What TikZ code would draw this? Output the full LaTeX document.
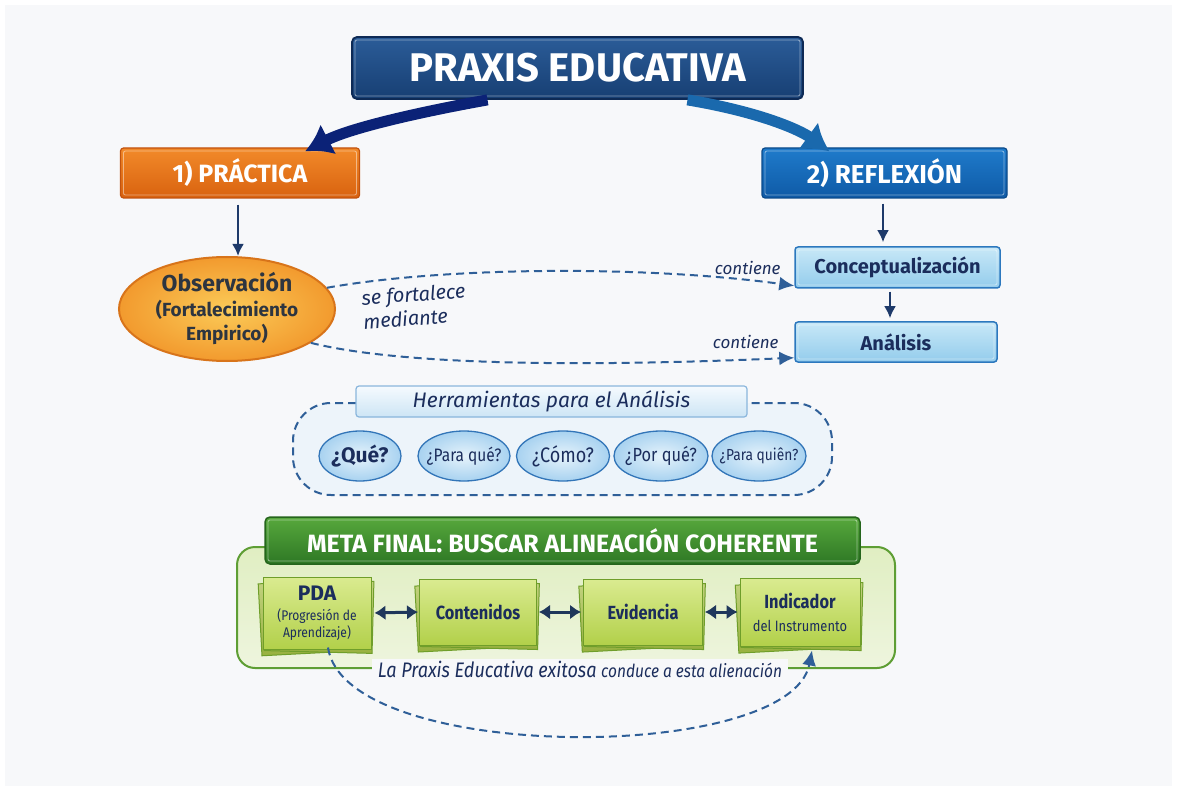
\documentclass[tikz,border=0pt]{standalone}
\usepackage{fontspec}
\setmainfont{Fira Sans}
\usetikzlibrary{arrows.meta,shapes.geometric}
\definecolor{bg}{HTML}{F7F8FA}
\definecolor{navy}{HTML}{1E3A6A}
\definecolor{ink}{HTML}{1B2D5C}
\definecolor{dk}{HTML}{2D3540}
\definecolor{dash}{HTML}{2F5F98}
\newcommand\fsz[2]{\fontsize{#1}{#2}\selectfont}
\newcommand\cond[1]{\scalebox{0.86}[1]{#1}}
\tikzset{
  innerline/.style={path picture={\draw[white,opacity=.45,line width=.9pt,rounded corners=2pt]
      ([shift={(3pt,-3pt)}]path picture bounding box.north west) rectangle
      ([shift={(-3pt,3pt)}]path picture bounding box.south east);}},
  titlebox/.style={rectangle,rounded corners=5pt,draw=HTML0E2A55,line width=1.8pt,
      top color=title1,bottom color=title2,text=white,font=\fsz{40}{44}\bfseries,innerline},
  orangebox/.style={rectangle,rounded corners=3pt,draw=orangeB,line width=1.2pt,
      top color=orange1,bottom color=orange2,text=white,font=\fsz{25}{28}\bfseries,innerline},
  bluebox/.style={rectangle,rounded corners=3pt,draw=blueB,line width=1.2pt,
      top color=blue1,bottom color=blue2,text=white,font=\fsz{26}{28}\bfseries,innerline},
  lightbox/.style={rectangle,rounded corners=3pt,draw=lbB,line width=1.5pt,
      top color=lb1,bottom color=lb2,text=ink,font=\fsz{20}{24}\bfseries,innerline},
  obsnode/.style={ellipse,draw=obsB,line width=2pt,inner color=obs1,outer color=obs2,
      text=dk,align=center,minimum width=216pt,minimum height=104pt,inner sep=-8pt,
      font=\fsz{19}{24}\bfseries},
  qnode/.style={ellipse,draw=qB,line width=1.3pt,inner color=q1,outer color=q2,
      text=ink,minimum height=50pt,inner xsep=-12pt,inner ysep=0pt},
  herrhead/.style={rectangle,rounded corners=3pt,draw=hB,line width=1.2pt,
      top color=h1,bottom color=h2,text=ink,font=\fsz{21}{24}\itshape,
      minimum width=391pt,minimum height=31pt},
  greenhead/.style={rectangle,rounded corners=5pt,draw=gB,line width=1.5pt,
      top color=g1,bottom color=g2,text=white,font=\fsz{25}{28}\bfseries,
      minimum width=595pt,minimum height=47pt,innerline},
  cardback/.style={rectangle,draw=cB,line width=1pt,top color=c1!90!black,bottom color=c2!85!black},
  card/.style={rectangle,draw=cB,line width=1pt,top color=c1,bottom color=c2,
      text=ink,align=center,inner sep=1pt},
  darrow/.style={-{Latex[length=12pt,width=12pt]},line width=2.4pt,draw=navy},
  dashline/.style={dash pattern=on 8pt off 5pt,line width=2pt,draw=dash},
  biarrow/.style={{Latex[length=11pt,width=15pt]}-{Latex[length=11pt,width=15pt]},line width=3pt,draw=HTML0E2A55!85!gray},
  lbl/.style={text=ink,font=\fsz{17}{20}\itshape},
}
\definecolor{HTML0E2A55}{HTML}{0E2A55}
\definecolor{title1}{HTML}{2B5C98}
\definecolor{title2}{HTML}{173F73}
\definecolor{orangeB}{HTML}{C2520E}
\definecolor{orange1}{HTML}{F28A2A}
\definecolor{orange2}{HTML}{D9620F}
\definecolor{blueB}{HTML}{0B4A8A}
\definecolor{blue1}{HTML}{1F7BCB}
\definecolor{blue2}{HTML}{0F5AA6}
\definecolor{lbB}{HTML}{2C78BE}
\definecolor{lb1}{HTML}{C8E8F7}
\definecolor{lb2}{HTML}{93CCEC}
\definecolor{obsB}{HTML}{D8741A}
\definecolor{obs1}{HTML}{FBCB58}
\definecolor{obs2}{HTML}{F29A2E}
\definecolor{qB}{HTML}{3275B8}
\definecolor{q1}{HTML}{E6F3FB}
\definecolor{q2}{HTML}{A8D2F0}
\definecolor{hB}{HTML}{8AB6DC}
\definecolor{h1}{HTML}{F5FAFE}
\definecolor{h2}{HTML}{CDE5F5}
\definecolor{gB}{HTML}{25651C}
\definecolor{g1}{HTML}{57A83C}
\definecolor{g2}{HTML}{2E7825}
\definecolor{cB}{HTML}{6F9E2A}
\definecolor{c1}{HTML}{DAEB90}
\definecolor{c2}{HTML}{B2D04A}
\definecolor{panelB}{HTML}{5E9E34}
\definecolor{panel1}{HTML}{E0EEC2}
\definecolor{panel2}{HTML}{EEF5DE}
\definecolor{herr1}{HTML}{EDF4FA}
\newcommand\greencard[7]{%
  \node[cardback,minimum width=#4,minimum height=#5,rotate=3] (#1b1) at (#2-3,#3-4) {};
  \node[cardback,minimum width=#4,minimum height=#5,rotate=-1.5] (#1b2) at (#2+2,#3-3) {};
  \node[card,minimum width=#4,minimum height=#5,font=#6] (#1) at (#2,#3) {#7};}
\begin{document}
\begin{tikzpicture}[x=1pt,y=1pt]
\useasboundingbox (0,0) rectangle (1177,-791);
\fill[white] (0,0) rectangle (1177,-791);
\fill[bg] (5,-5) rectangle (1172,-786);

% title and main branches
\node[titlebox,minimum width=451pt,minimum height=62pt] (title) at (577.5,-68) {PRAXIS EDUCATIVA};
\node[orangebox,minimum width=239pt,minimum height=50pt] (prac) at (240,-173) {1) PRÁCTICA};
\node[bluebox,minimum width=245pt,minimum height=50pt] (refl) at (884.5,-173) {2) REFLEXIÓN};

\draw[-{Latex[length=26pt,width=34pt]},line width=11pt,draw=HTML0E2A55!80!blue]
  ([xshift=-90pt]title.south) .. controls (420,-112) and (350,-128) .. ([xshift=65pt,yshift=-4pt]prac.north);
\draw[-{Latex[length=26pt,width=34pt]},line width=11pt,draw=blue1!85!black]
  ([xshift=110pt]title.south) .. controls (760,-112) and (800,-130) .. ([xshift=-55pt,yshift=-4pt]refl.north);

% left column
\node[obsnode] (obs) at (227,-309) {{\fsz{23}{27}\selectfont Observación}\\[1pt](Fortalecimiento\\Empirico)};
\draw[darrow] ([xshift=-2pt,yshift=-6pt]prac.south) -- (obs.north -| 238,0);

% right column
\node[lightbox,minimum width=205pt,minimum height=41pt] (conc) at (897.5,-267.5) {Conceptualización};
\node[lightbox,minimum width=202pt,minimum height=40pt] (anal) at (896,-342) {Análisis};
\draw[darrow] ([yshift=-5pt]refl.south -| 883,0) -- ([yshift=4pt]conc.north -| 883,0);
\draw[darrow] ([yshift=-3pt]conc.south -| 890,0) -- ([yshift=3pt]anal.north -| 890,0);

% dashed links
\draw[dashline,-{Latex[length=15pt,width=14pt]}] (obs.12) .. controls (450,-266) and (650,-266) .. ([yshift=3pt]conc.south west);
\draw[dashline,-{Latex[length=15pt,width=14pt]}] (obs.-22) .. controls (420,-370) and (650,-364) .. ([yshift=5pt]anal.south west);
\node[lbl,anchor=east] (c1) at (784,-268) {contiene};
\node[lbl,anchor=east] (c2) at (782,-342) {contiene};
\node[text=ink,font=\fsz{20}{24}\itshape,align=left,rotate=4,anchor=west] (sfm) at (359,-310) {se fortalece\\mediante};

% herramientas
\draw[dashline,fill=herr1,rounded corners=38pt] (356,-403) -- (293,-403) -- (293,-495) -- (832,-495) -- (832,-403) -- (747,-403);
\node[herrhead] (herr) at (551.5,-401.5) {Herramientas para el Análisis};
\node[qnode,minimum width=82pt,font=\fsz{21}{24}\bfseries] (q1) at (360,-456) {¿Qué?};
\node[qnode,minimum width=92pt,font=\fsz{18}{20}] (q2) at (464,-456) {\cond{¿Para qué?}};
\node[qnode,minimum width=93pt,font=\fsz{21}{24}] (q3) at (563,-456) {\cond{¿Cómo?}};
\node[qnode,minimum width=94pt,font=\fsz{19}{22}] (q4) at (661,-456) {\cond{¿Por qué?}};
\node[qnode,minimum width=94pt,font=\fsz{16}{18}] (q5) at (759,-456) {\cond{¿Para quiên?}};

% meta final
\draw[draw=panelB,line width=2pt,top color=panel1,bottom color=panel2,rounded corners=18pt] (237,-547) rectangle (895,-668);
\node[greenhead] (meta) at (562.5,-540.5) {META FINAL: BUSCAR ALINEACIÓN COHERENTE};

\greencard{pda}{317}{-613}{108}{72}{\fsz{14}{17}}{{\fsz{21}{24}\bfseries PDA}\\[3pt]\cond{(Progresión de}\\\cond{Aprendizaje)}}
\greencard{cont}{478}{-612}{117}{66}{\fsz{19}{22}\bfseries}{\cond{Contenidos}}
\greencard{evid}{643}{-612}{119}{66}{\fsz{19}{22}\bfseries}{\cond{Evidencia}}
\greencard{ind}{800}{-612}{120}{68}{\fsz{15}{18}}{{\fsz{19}{22}\bfseries\cond{Indicador}}\\[5pt]\cond{del Instrumento}}

\draw[biarrow,shorten <=3pt,shorten >=1pt] (pda.east) -- (cont.west);
\draw[biarrow,shorten <=2pt,shorten >=2pt] (cont.east) -- (evid.west);
\draw[biarrow,shorten <=2pt,shorten >=2pt] (evid.east) -- (ind.west);

\node[fill=bg,inner xsep=6pt,inner ysep=2pt,text=ink] (praxlbl) at (580,-669) {\cond{\fsz{21}{24}\itshape La Praxis Educativa exitosa \fsz{18}{20}conduce a esta alienación}};

\draw[dashline,-{Latex[length=15pt,width=14pt]}] ([xshift=11pt,yshift=2pt]pda.south) .. controls (345,-764) and (790,-764) .. ([xshift=12pt,yshift=-4pt]ind.south);
\end{tikzpicture}
\end{document}
